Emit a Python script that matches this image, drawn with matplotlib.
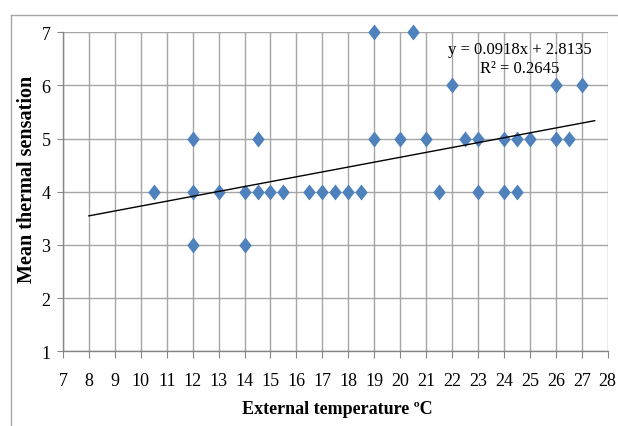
import matplotlib

matplotlib.use("Agg")
import matplotlib.pyplot as plt
from matplotlib.lines import Line2D
from matplotlib.path import Path

# External temperature (deg C) and mean thermal sensation
temp = [10.5, 12, 12, 12, 13, 14, 14, 14.5, 14.5, 15, 15.5,
        16.5, 17, 17.5, 18, 18.5, 19, 19, 20, 20.5, 21, 21.5,
        22, 22.5, 23, 23, 24, 24, 24.5, 24.5, 25, 26, 26, 26.5, 27]
sensation = [4, 5, 4, 3, 4, 4, 3, 5, 4, 4, 4,
             4, 4, 4, 4, 4, 7, 5, 5, 7, 5, 4,
             6, 5, 5, 4, 5, 4, 5, 4, 5, 6, 5, 5, 6]

# Linear trend as printed on the chart
slope, intercept, r2 = 0.0918, 2.8135, 0.2645
trend_x = [8, 27.5]

BLUE = "#4f81bd"
GRID = "#a6a6a6"
AXIS = "#868686"

plt.rcParams["font.family"] = ["Liberation Serif", "DejaVu Serif"]

fig = plt.figure(figsize=(6.18, 4.27), dpi=100)
ax = fig.add_axes([0.1019, 0.1749, 0.8814, 0.7471])

diamond = Path([(0, 1), (0.78, 0), (0, -1), (-0.78, 0), (0, 1)],
               [Path.MOVETO, Path.LINETO, Path.LINETO, Path.LINETO, Path.CLOSEPOLY])
ax.plot(temp, sensation, linestyle="none", marker=diamond, markersize=11.5,
        color=BLUE, markeredgewidth=0, zorder=3, clip_on=False)
ax.plot(trend_x, [slope * x + intercept for x in trend_x], color="black", lw=1.0, zorder=4)

ax.set_xlim(7, 28)
ax.set_ylim(1, 7)
ax.set_xticks(range(7, 29))
ax.set_yticks(range(1, 8))
ax.grid(True, color=GRID, lw=1.0)
ax.set_axisbelow(True)
for side in ("top", "right"):
    ax.spines[side].set_visible(False)
for side in ("left", "bottom"):
    ax.spines[side].set_color(AXIS)
    ax.spines[side].set_linewidth(1.0)
ax.tick_params(axis="x", length=5, color=AXIS, pad=10, labelsize=13)
ax.tick_params(axis="y", length=4, color=AXIS, pad=5, labelsize=13)

ax.set_xlabel("External temperature ºC", fontsize=13, fontweight="bold")
ax.xaxis.set_label_coords(0.503, -0.152)
ax.set_ylabel("Mean thermal sensation", fontsize=14.5, fontweight="bold")
ax.yaxis.set_label_coords(-0.048, 0.543)

ax.text(0.839, 0.973, f"y = {slope}x + {intercept}\nR² = {r2}", transform=ax.transAxes,
        ha="center", va="top", fontsize=12, linespacing=1.25)

# outer chart frame (top and left edges visible)
fig.add_artist(Line2D([0.018, 1.0], [0.963, 0.963], transform=fig.transFigure, color=GRID, lw=1.0))
fig.add_artist(Line2D([0.018, 0.018], [0.0, 0.963], transform=fig.transFigure, color=GRID, lw=1.0))

fig.savefig("out.png", dpi=100)
